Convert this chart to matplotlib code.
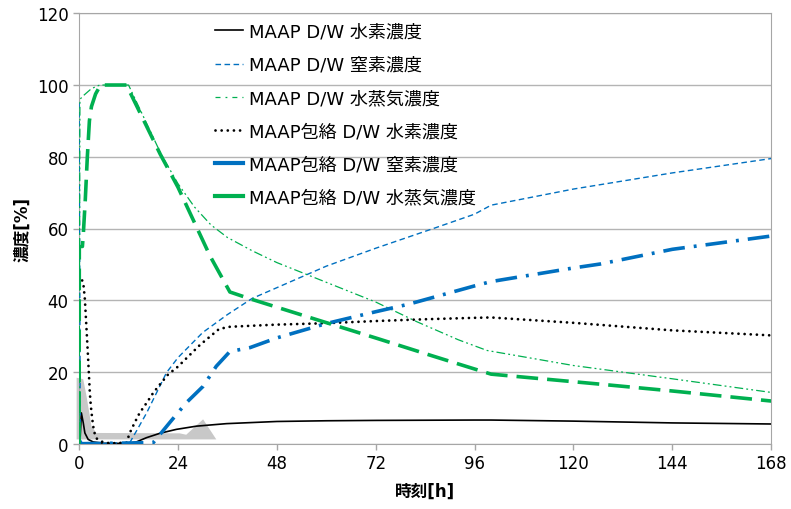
import matplotlib
matplotlib.use('Agg')
import matplotlib.pyplot as plt
from matplotlib.lines import Line2D

plt.rcParams['font.family'] = ['DejaVu Sans', 'Noto Sans CJK JP']

# MAAP D/W
h2_t = [0, 0.2, 0.55, 1.0, 1.4, 2.2, 3.4, 6, 12, 13.9, 16.4, 19.6, 23.6, 28.5, 35.8, 48, 60, 72, 96, 100, 120, 144, 168]
h2_v = [0, 0.3, 8.6, 5.9, 3.0, 1.2, 0.5, 0.1, 0.1, 0.5, 1.7, 2.9, 4.0, 4.9, 5.6, 6.2, 6.4, 6.5, 6.6, 6.6, 6.3, 5.8, 5.5]

n2_t = [0, 0.3, 1, 12.3, 13.9, 16.4, 18.8, 21.2, 24, 30, 36, 42, 48, 60, 72, 86, 96, 100, 120, 144, 168]
n2_v = [95, 1, 0, 0.3, 3.5, 8.6, 14.2, 19.8, 24, 31, 36, 40.5, 43.5, 49.5, 54.5, 60, 64, 66.5, 71, 75.5, 79.5]

st_t = [0, 0.2, 1, 3, 5, 12, 20, 24, 28, 32, 36, 42, 48, 60, 72, 82, 92, 99, 120, 144, 168]
st_v = [0, 96, 97, 99, 100, 100, 80.5, 72.5, 66, 61, 57.5, 53.8, 50.5, 45, 39.5, 34, 29, 26, 21.8, 18.1, 14.3]

# MAAP包絡 D/W
h2e_t = [0, 1, 1.4, 1.8, 2.2, 2.6, 2.85, 3.2, 3.6, 4.2, 5.4, 7.5, 11.5, 12.3, 13.5, 14.7, 16.4, 18, 19.6,
         21.6, 24, 29.3, 34, 36.6, 44, 48, 60, 72, 84, 96, 100, 120, 144, 168]
h2e_v = [47, 45, 40.3, 32, 23.5, 14.3, 10.5, 6.8, 3.5, 1.5, 0.6, 0.1, 0.3, 3, 5.9, 8.6, 11.4, 14.2, 16.5,
         19.3, 21.5, 27.5, 32, 32.6, 33, 33.2, 33.6, 34.2, 34.7, 35.1, 35.2, 33.7, 31.6, 30.2]

n2e_t = [0, 18, 22, 26, 30.1, 33.3, 36.6, 41.5, 48, 60, 72, 80, 96, 100, 120, 126.5, 144, 168]
n2e_v = [0, 0.3, 5.9, 11.4, 16, 21.6, 25.7, 26.8, 29.5, 33.5, 36.8, 38.9, 44, 45.2, 49, 50.1, 54.2, 57.9]

ste_t = [0, 0.05, 0.8, 1, 1.5, 2, 2.5, 3, 4, 5.2, 11.5, 19.7, 24, 31.8, 36.6, 41.5, 58.2, 72.5, 86, 100, 126.5, 144, 168]
ste_v = [0, 55, 55, 58, 68, 80, 90, 94, 97.5, 100, 100, 80.7, 71.5, 52.3, 42.3, 40.4, 34.4, 29.3, 24.4, 19.4, 16.6, 14.7, 11.9]

# gray shape near the origin
gray_t = [-0.6, -0.6, 1, 1.8, 3, 4.2, 24.4, 26, 30.1, 33.3, 33.3]
gray_v = [1.2, 18.4, 18, 13.3, 4.9, 3, 2.9, 2.5, 6.8, 1.2, 1.2]

labels = ['MAAP D/W 水素濃度', 'MAAP D/W 窒素濃度', 'MAAP D/W 水蒸気濃度',
          'MAAP包絡 D/W 水素濃度', 'MAAP包絡 D/W 窒素濃度', 'MAAP包絡 D/W 水蒸気濃度']

blue = '#0070C0'
green = '#00B050'

fig = plt.figure(figsize=(7.91, 5.10), dpi=100)
ax = fig.add_axes([0.1, 0.128, 0.875, 0.844])

ax.fill(gray_t, gray_v, color='#c8c8c8', lw=0, zorder=1, clip_on=False)

ax.plot(h2_t, h2_v, color='black', lw=1.2, zorder=3)
ax.plot(n2_t, n2_v, color=blue, lw=1.0, linestyle=(0, (4, 2.5)), zorder=3)
ax.plot(st_t, st_v, color=green, lw=0.9, linestyle=(0, (7, 2.5, 1.5, 2.5, 1.5, 2.5)), zorder=3)
ax.plot(h2e_t, h2e_v, color='black', lw=2.0, linestyle=(0, (0.01, 2.2)), dash_capstyle='round', zorder=4)
ax.plot(n2e_t, n2e_v, color=blue, lw=2.6, linestyle=(0, (6, 2.5, 0.8, 2.5)), zorder=4)
ax.plot(ste_t, ste_v, color=green, lw=2.6, linestyle=(0, (6, 2.5)), zorder=4)

ax.set_xlim(0, 168)
ax.set_ylim(0, 120)
ax.set_xticks(range(0, 169, 24))
ax.set_yticks(range(0, 121, 20))
ax.yaxis.grid(True, color='#b4b4b4', lw=1)
ax.set_axisbelow(True)
for s in ax.spines.values():
    s.set_color('#a6a6a6')
ax.tick_params(axis='both', colors='#a6a6a6', labelcolor='black', labelsize=12, length=4, width=1)

ax.set_xlabel('時刻[h]', fontsize=12, fontweight='bold', labelpad=7)
ax.set_ylabel('濃度[%]', fontsize=12, fontweight='bold', labelpad=4)

handles = [
    Line2D([], [], color='black', lw=1.2),
    Line2D([], [], color=blue, lw=1.0, linestyle=(0, (4, 2.5))),
    Line2D([], [], color=green, lw=0.9, linestyle=(0, (4, 4, 1.5, 4))),
    Line2D([], [], color='black', lw=2.0, linestyle=(0, (0.01, 2.2)), dash_capstyle='round'),
    Line2D([], [], color=blue, lw=3),
    Line2D([], [], color=green, lw=3),
]
ax.legend(handles, labels, loc='upper left', bbox_to_anchor=(0.197, 0.978), frameon=False,
          fontsize=13, handlelength=1.55, handletextpad=0.3, labelspacing=0.84, borderpad=0,
          borderaxespad=0)

fig.savefig('out.png', dpi=100)
